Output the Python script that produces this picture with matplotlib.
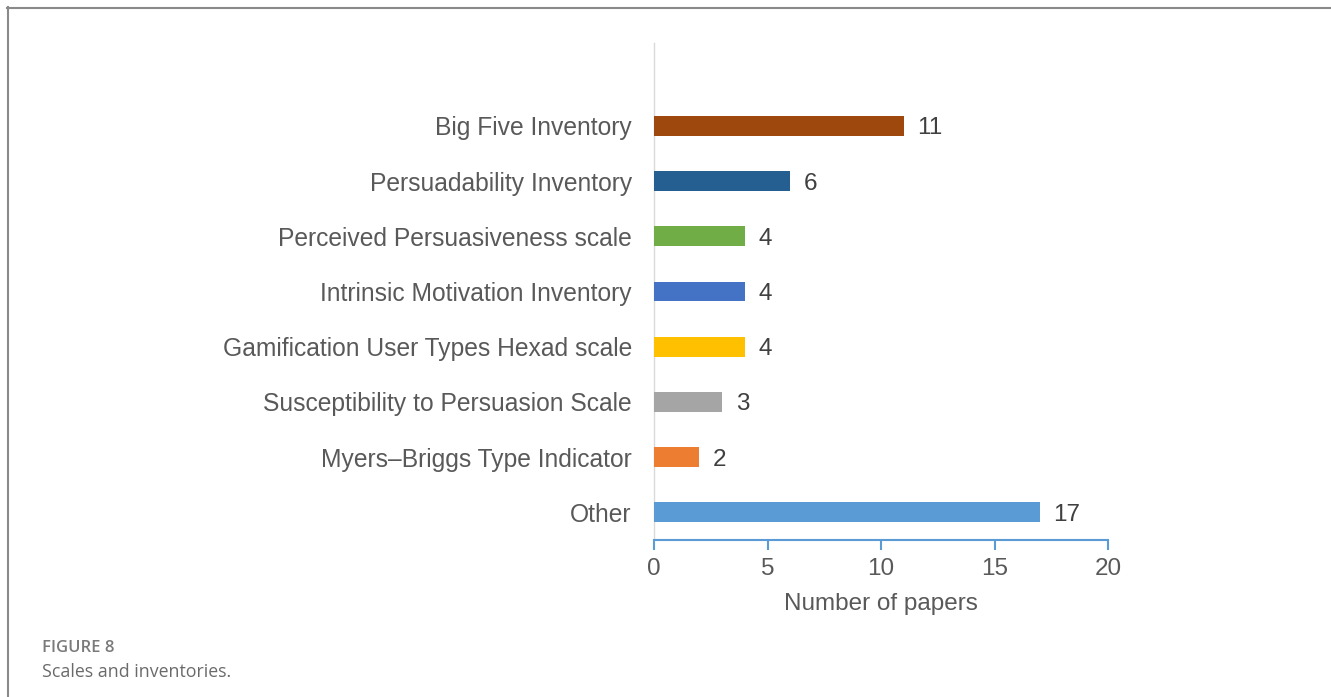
import matplotlib
matplotlib.use("Agg")
import matplotlib.pyplot as plt
from matplotlib.lines import Line2D

categories = [
    "Other",
    "Myers\u2013Briggs Type Indicator",
    "Susceptibility to Persuasion Scale",
    "Gamification User Types Hexad scale",
    "Intrinsic Motivation Inventory",
    "Perceived Persuasiveness scale",
    "Persuadability Inventory",
    "Big Five Inventory",
]
papers = [17, 2, 3, 4, 4, 4, 6, 11]
colors = ["#5B9BD5", "#ED7D31", "#A5A5A5", "#FFC000",
          "#4472C4", "#70AD47", "#255E91", "#9E480E"]
xticks = [0, 5, 10, 15, 20]

W, H = 1331, 697
fig = plt.figure(figsize=(W / 100, H / 100), dpi=100)
fig.patch.set_facecolor("white")

ax = fig.add_axes([654 / W, (H - 540) / H, (1108 - 654) / W, (540 - 43) / H])
ypos = list(range(len(categories)))
ax.barh(ypos, papers, height=0.36, color=colors, zorder=3)

for y, v in zip(ypos, papers):
    ax.text(v + 0.6, y, str(v), va="center_baseline", ha="left",
            fontsize=17.5, color="#404040", family="Liberation Sans")

ax.set_xlim(0, 20)
ax.set_ylim(-0.5, 8.5)
ax.set_yticks(ypos)
ax.set_yticklabels(categories, fontsize=17.7, color="#595959", family="Liberation Sans")
ax.set_xticks(xticks)
ax.set_xticklabels([str(t) for t in xticks], fontsize=17.5, color="#595959",
                   family="Liberation Sans")
ax.set_xlabel("Number of papers", fontsize=17.5, color="#595959",
              family="Liberation Sans", labelpad=9)

for s in ["top", "right"]:
    ax.spines[s].set_visible(False)
ax.spines["left"].set_color("#D9D9D9")
ax.spines["left"].set_linewidth(1.0)
ax.spines["bottom"].set_color("#5B9BD5")
ax.spines["bottom"].set_linewidth(1.5)
ax.tick_params(axis="y", length=0, pad=16)
ax.tick_params(axis="x", direction="out", length=7, width=1.5, color="#5B9BD5", pad=6)

# frame around the figure panel
fig.add_artist(Line2D([7 / W, 1.0], [1 - 7.5 / H, 1 - 7.5 / H],
                      transform=fig.transFigure, color="#8A8A8A", lw=1.5))
fig.add_artist(Line2D([7.5 / W, 7.5 / W], [0.0, 1 - 7 / H],
                      transform=fig.transFigure, color="#8A8A8A", lw=1.5))

fig.text(42 / W, 1 - 648 / H, "FIGURE 8", fontsize=12, color="#7A7A7A",
         family="Open Sans", fontweight="semibold", va="center", ha="left")
fig.text(42 / W, 1 - 672 / H, "Scales and inventories.", fontsize=12.8,
         color="#6A6A6A", family="Open Sans", va="center", ha="left")

fig.savefig("out.png", dpi=100, facecolor="white")
